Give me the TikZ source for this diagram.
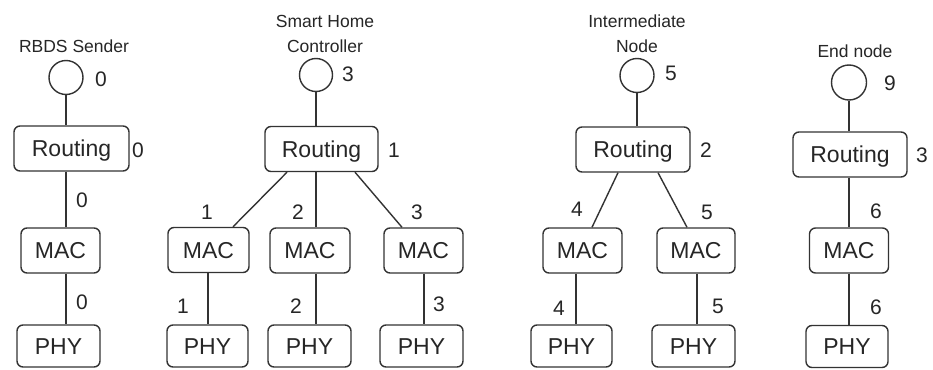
\documentclass[tikz,border=0pt]{standalone}
\usepackage{fontspec}
\setmainfont{Liberation Sans}
\begin{document}
\begin{tikzpicture}[x=1pt,y=-1pt,
  every node/.style={text=black!85},
  layer/.style={draw=black!80, line width=1.4pt, rounded corners=6pt,
    font=\fontsize{23}{26}\selectfont, text height=16.5pt, text depth=0pt,
    inner sep=0pt, minimum height=45pt},
  routbox/.style={layer, minimum width=114pt},
  macbox/.style={layer, minimum width=79pt},
  phybox/.style={layer, minimum width=82pt, minimum height=42pt},
  proc/.style={circle, draw=black!80, line width=1.4pt, minimum size=34pt, inner sep=0pt},
  num/.style={font=\fontsize{21}{24}\selectfont, text height=15pt, text depth=0pt, inner sep=0pt},
  stacktitle/.style={font=\fontsize{17.5}{25}\selectfont, align=center, anchor=south, inner sep=0pt},
  link/.style={draw=black!80, line width=1.4pt}]

\fill[white] (0,0) rectangle (933,369);
\useasboundingbox (0,0) rectangle (933,369);

% ---- RBDS sender stack ----
\node[stacktitle] (t1) at (74,53) {RBDS Sender};
\node[proc] (c1) at (66,77.5) {};
\node[routbox, minimum width=115pt] (r1) at (71.5,148.5) {Routing};
\node[macbox] (m1) at (60.5,250.5) {MAC};
\node[phybox, minimum width=83pt] (p1) at (58.5,346) {PHY};
\node[num] (n1a) at (101,79) {0};
\node[num] (n1b) at (138,150) {0};
\node[num] (n1c) at (82,200) {0};
\node[num] (n1d) at (82,302) {0};
\draw[link] (c1) -- (c1 |- r1.north);
\draw[link] (r1.south -| c1) -- (m1.north -| c1);
\draw[link] (m1.south -| c1) -- (p1.north -| c1);

% ---- smart home controller stack ----
\node[stacktitle] (t2) at (325,53) {Smart Home\\Controller};
\node[proc, minimum size=33pt] (c2) at (316,75) {};
\node[routbox, minimum width=113pt] (r2) at (321.5,149) {Routing};
\node[macbox, minimum width=81pt] (m2a) at (208.5,250) {MAC};
\node[macbox, minimum width=80pt] (m2b) at (310,250.5) {MAC};
\node[macbox] (m2c) at (423.5,250.5) {MAC};
\node[phybox, minimum width=81pt] (p2a) at (207.5,346) {PHY};
\node[phybox, minimum width=83pt] (p2b) at (309.5,346) {PHY};
\node[phybox, minimum width=83pt] (p2c) at (421.5,346) {PHY};
\node[num] (n2a) at (348,74) {3};
\node[num] (n2b) at (394,150) {1};
\node[num] (n2c) at (207,212) {1};
\node[num] (n2d) at (298,212) {2};
\node[num] (n2e) at (417,212) {3};
\node[num] (n2f) at (183,306) {1};
\node[num] (n2g) at (296,306) {2};
\node[num] (n2h) at (439,304) {3};
\draw[link] (c2) -- (c2 |- r2.north);
\draw[link] ([xshift=-34.5pt]r2.south) -- ([xshift=24.5pt]m2a.north);
\draw[link] (r2.south -| c2) -- (m2b.north -| c2);
\draw[link] ([xshift=33.5pt]r2.south) -- ([xshift=-21.5pt]m2c.north);
\draw[link] ([xshift=-0.5pt]m2a.south) -- ([xshift=-0.5pt]m2a.south |- p2a.north);
\draw[link] (m2b.south -| c2) -- (p2b.north -| c2);
\draw[link] ([xshift=0.5pt]m2c.south) -- ([xshift=0.5pt]m2c.south |- p2c.north);

% ---- intermediate node stack ----
\node[stacktitle] (t3) at (637,53) {Intermediate\\Node};
\node[proc] (c3) at (637,75.5) {};
\node[routbox] (r3) at (633,149.5) {Routing};
\node[macbox] (m3a) at (582.5,250.5) {MAC};
\node[macbox, minimum width=78pt] (m3b) at (696,250.5) {MAC};
\node[phybox, minimum width=81pt] (p3a) at (571.5,346) {PHY};
\node[phybox, minimum width=83pt] (p3b) at (693.5,346) {PHY};
\node[num] (n3a) at (671,73) {5};
\node[num] (n3b) at (706,150) {2};
\node[num] (n3c) at (577,209) {4};
\node[num] (n3d) at (707,212) {5};
\node[num] (n3e) at (559,308) {4};
\node[num] (n3f) at (718,306) {5};
\draw[link] (c3) -- (c3 |- r3.north);
\draw[link] ([xshift=-15pt]r3.south) -- ([xshift=9.5pt]m3a.north);
\draw[link] ([xshift=25pt]r3.south) -- ([xshift=-9pt]m3b.north);
\draw[link] ([xshift=-6.5pt]m3a.south) -- ([xshift=-6.5pt]m3a.south |- p3a.north);
\draw[link] ([xshift=1pt]m3b.south) -- ([xshift=1pt]m3b.south |- p3b.north);

% ---- end node stack ----
\node[stacktitle] (t4) at (855,58) {End node};
\node[proc, minimum size=35pt] (c4) at (849,82.5) {};
\node[routbox] (r4) at (850,154.5) {Routing};
\node[macbox] (m4) at (849,250.5) {MAC};
\node[phybox] (p4) at (847,346.5) {PHY};
\node[num] (n4a) at (890,83) {9};
\node[num] (n4b) at (922,155) {3};
\node[num] (n4c) at (876,211) {6};
\node[num] (n4d) at (876,307) {6};
\draw[link] (c4) -- (c4 |- r4.north);
\draw[link] (r4.south -| m4) -- (m4.north);
\draw[link] (m4.south) -- (m4.south |- p4.north);

\end{tikzpicture}
\end{document}
